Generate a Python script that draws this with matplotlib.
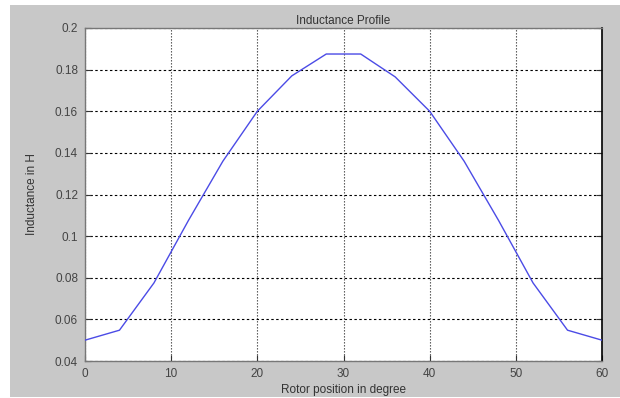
import matplotlib
matplotlib.use("Agg")
import matplotlib.pyplot as plt
from matplotlib.patches import Rectangle

# Data
rotor_position = [0, 4, 8, 12, 16, 20, 24, 28, 32, 36, 40, 44, 48, 52, 56, 60]
inductance = [0.050, 0.0548, 0.0775, 0.1075, 0.136, 0.160, 0.177, 0.1875,
              0.1875, 0.1765, 0.160, 0.136, 0.1075, 0.0775, 0.0548, 0.050]
x_ticks = [0, 10, 20, 30, 40, 50, 60]
y_ticks = [0.04, 0.06, 0.08, 0.1, 0.12, 0.14, 0.16, 0.18, 0.2]
y_tick_labels = ["0.04", "0.06", "0.08", "0.1", "0.12", "0.14", "0.16", "0.18", "0.2"]

plt.rcParams['font.family'] = ['Liberation Sans', 'DejaVu Sans']

W, H = 620, 398
fig = plt.figure(figsize=(W / 100, H / 100), dpi=100, facecolor='white')
fig.patches.append(Rectangle((10 / W, 1 - 397 / H), (W - 10) / W, (397 - 5) / H,
                             transform=fig.transFigure, facecolor='#c8c8c8',
                             edgecolor='none', zorder=-10))

left, right, top, bottom = 85, 602, 28, 361
ax = fig.add_axes([left / W, 1 - bottom / H, (right - left) / W, (bottom - top) / H])
ax.set_facecolor('white')
ax.plot(rotor_position, inductance, color='#4b4be6', linewidth=1.0, zorder=3)

ax.set_xlim(0, 60)
ax.set_ylim(0.04, 0.2)
ax.set_xticks(x_ticks)
ax.set_yticks(y_ticks)
ax.set_yticklabels(y_tick_labels)
ax.tick_params(direction='in', length=4, width=0.8, colors='#333333',
               labelsize=8.5, labelcolor='#444444', top=False, right=True)
ax.tick_params(axis='x', pad=5)
ax.tick_params(axis='y', pad=5)

ax.grid(True, axis='y', color='black', linestyle=(0, (2.2, 2.2)), linewidth=0.8)
ax.grid(True, axis='x', color='#444444', linestyle=(0, (1.2, 1.5)), linewidth=0.8)

for s in ['left', 'bottom', 'top']:
    ax.spines[s].set_color('#777777')
    ax.spines[s].set_linewidth(1.0)
ax.spines['right'].set_color('black')
ax.spines['right'].set_linewidth(1.2)

ax.set_title('Inductance Profile', fontsize=8.5, color='#333333', pad=3)
ax.set_xlabel('Rotor position in degree', fontsize=8.5, color='#333333', labelpad=3)
ax.set_ylabel('Inductance in H', fontsize=8.5, color='#333333', labelpad=12)

fig.savefig('out.png', dpi=100, facecolor='white')
